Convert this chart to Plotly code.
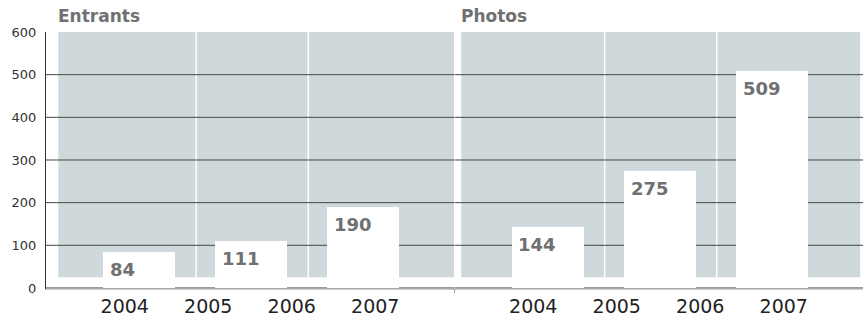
import plotly.graph_objects as go

# Values per panel
years = ["2004", "2005", "2006", "2007"]
panel_titles = ["Entrants", "Photos"]
entrants = [84, 111, 190]
photos = [144, 275, 509]
y_ticks = [0, 100, 200, 300, 400, 500, 600]
grid_values = [0, 100, 200, 300, 400, 500]

# Styling / layout constants
GRAY = "#cfd8da"
LABEL_GRAY = "#6f7072"
GRID_DARK = "#474747"
BAR_W = 0.643
X_RANGE = [-0.83, 2.815]
GRAY_SPANS = [(-0.72, 2.81), (-0.77, 2.79)]
DIVIDERS = [0.51, 1.51]
FLOOR = 25
TOP = 600
LABEL_POS = [0.99 + (k - 1.5) * 0.745 for k in range(len(years))]

fig = go.Figure()
series = [entrants, photos]
axes = [("x", "y"), ("x2", "y2")]

shapes = []
annotations = []
for i, (vals, (xa, ya)) in enumerate(zip(series, axes)):
    xs = list(range(len(vals)))
    fig.add_trace(go.Bar(
        x=xs, y=vals, width=BAR_W, xaxis=xa, yaxis=ya,
        marker=dict(color="white", line=dict(width=0)),
        hoverinfo="skip", showlegend=False,
    ))
    g0, g1 = GRAY_SPANS[i]
    # gray backdrop
    shapes.append(dict(type="rect", xref=xa, yref=ya, x0=g0, x1=g1,
                       y0=FLOOR, y1=TOP, fillcolor=GRAY,
                       line=dict(width=0), layer="below"))
    # white column dividers inside the backdrop
    for d in DIVIDERS:
        shapes.append(dict(type="line", xref=xa, yref=ya, x0=d, x1=d,
                           y0=FLOOR, y1=TOP,
                           line=dict(color="white", width=1.5), layer="below"))
    # horizontal rules, under the bars
    for v in grid_values:
        shapes.append(dict(type="line", xref=xa, yref=ya,
                           x0=X_RANGE[0], x1=X_RANGE[1], y0=v, y1=v,
                           line=dict(color=GRID_DARK, width=1), layer="between"))
    # value labels at top-left inside each bar
    for x, v in zip(xs, vals):
        annotations.append(dict(
            xref=xa, yref=ya, x=x - BAR_W / 2, y=v, text=str(v),
            xanchor="left", yanchor="top", xshift=5, yshift=-5,
            showarrow=False,
            font=dict(family="DejaVu Sans", size=18, color=LABEL_GRAY, weight="bold"),
        ))
    # panel title
    annotations.append(dict(
        xref=xa, yref="paper", x=g0, y=1, text=panel_titles[i],
        xanchor="left", yanchor="bottom", xshift=-2, yshift=4, showarrow=False,
        font=dict(family="DejaVu Sans", size=17, color=LABEL_GRAY, weight="bold"),
    ))

# small tick where the two panels meet
shapes.append(dict(type="line", xref="x2", yref="paper", x0=X_RANGE[0], x1=X_RANGE[0],
                   y0=0, y1=-0.016, line=dict(color=GRID_DARK, width=1)))

xaxis_common = dict(
    range=X_RANGE, showgrid=False, zeroline=False,
    showline=True, linecolor="#cccccc", linewidth=1,
    tickmode="array", tickvals=LABEL_POS, ticktext=years, ticks="",
    tickfont=dict(family="DejaVu Sans", size=19, color="#222222"),
    fixedrange=True,
)
y_range = [-2.4, TOP]

fig.update_layout(
    width=863, height=320,
    margin=dict(l=46, r=0, t=32, b=31),
    paper_bgcolor="white", plot_bgcolor="rgba(0,0,0,0)",
    bargap=0,
    xaxis=dict(domain=[0, 0.5], anchor="y", **xaxis_common),
    xaxis2=dict(domain=[0.5, 1], anchor="y2", **xaxis_common),
    yaxis=dict(
        range=y_range, showgrid=False, zeroline=False,
        showline=True, linecolor="#333333", linewidth=1,
        tickmode="array", tickvals=y_ticks, ticks="",
        ticklabelstandoff=6,
        tickfont=dict(family="DejaVu Sans", size=13, color="#333333"),
        fixedrange=True,
    ),
    yaxis2=dict(
        range=y_range, anchor="x2", showgrid=False, zeroline=False,
        showline=False, showticklabels=False, fixedrange=True,
    ),
    shapes=shapes,
    annotations=annotations,
)

fig.write_html("out.html")
